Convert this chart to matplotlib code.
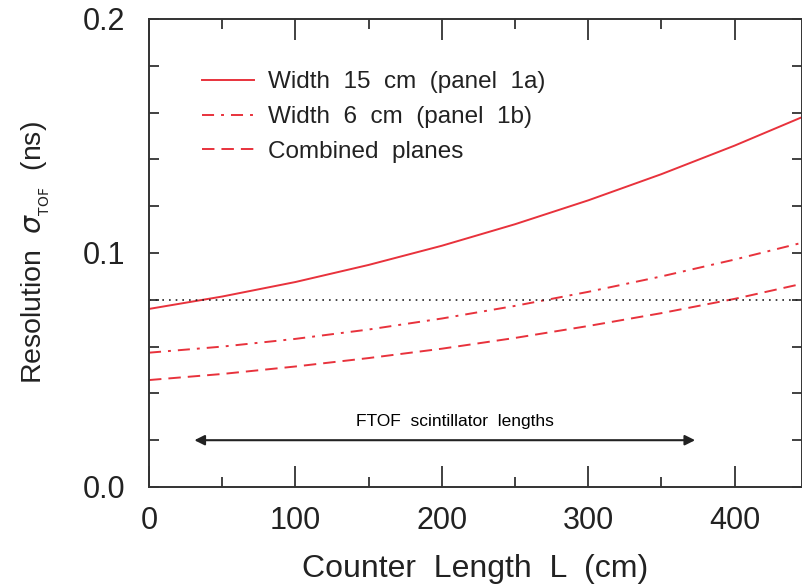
import numpy as np
import matplotlib
matplotlib.use("Agg")
import matplotlib.pyplot as plt
from matplotlib.ticker import MultipleLocator

# Data
L = [0, 50, 100, 150, 200, 250, 300, 350, 400, 450]
width15 = [0.0761, 0.0814, 0.0876, 0.0949, 0.1031, 0.1123, 0.1225, 0.1337, 0.1459, 0.1591]
width6 = [0.0574, 0.0600, 0.0633, 0.0673, 0.0720, 0.0774, 0.0834, 0.0900, 0.0972, 0.1050]
combined = [0.0457, 0.0483, 0.0515, 0.0551, 0.0591, 0.0637, 0.0688, 0.0743, 0.0804, 0.0874]
series_labels = ["Width  15  cm  (panel  1a)", "Width  6  cm  (panel  1b)", "Combined  planes"]
threshold = 0.08
arrow_range = [31, 373]
arrow_y = 0.02
arrow_text = "FTOF  scintillator  lengths"
arrow_text_x = 209

plt.rcParams['font.family'] = ['Liberation Sans', 'DejaVu Sans']
fig = plt.figure(figsize=(8.03, 5.86), dpi=100)
ax = fig.add_axes([149/803, 99/586, 653/803, 468/586])

red = '#e8323c'
lw = 1.4
ax.plot(L, width15, color=red, lw=lw, ls='-', label=series_labels[0])
ax.plot(L, width6, color=red, lw=lw, ls=(0, (6.2, 3.6, 1.5, 3.6)), label=series_labels[1])
ax.plot(L, combined, color=red, lw=lw, ls=(0, (6.4, 3.6)), label=series_labels[2])
ax.axhline(threshold, color='#222222', lw=1.2, ls=(0, (1, 3)))

ax.annotate('', xy=(arrow_range[0], arrow_y), xytext=(arrow_range[1], arrow_y),
            arrowprops=dict(arrowstyle='<|-|>', color='#222222', lw=1.5,
                            mutation_scale=15, shrinkA=0, shrinkB=0))
ax.text(arrow_text_x, arrow_y + 0.0082, arrow_text, ha='center', va='center', fontsize=12.5)

ax.set_xlim(0, 446)
ax.set_ylim(0, 0.2)
ax.xaxis.set_major_locator(MultipleLocator(100))
ax.xaxis.set_minor_locator(MultipleLocator(50))
ax.yaxis.set_minor_locator(MultipleLocator(0.02))
ax.set_yticks([0.0, 0.1, 0.2])
ax.set_yticklabels(['0.0', '0.1', '0.2'])
ax.tick_params(which='both', direction='in', top=True, right=True, labelsize=22,
               color='#333333', width=1.3, labelcolor='#222222')
ax.tick_params(which='major', axis='x', length=15, pad=14)
ax.tick_params(which='minor', axis='x', length=7.5)
ax.tick_params(which='both', axis='y', length=7.5, pad=17)
for s in ax.spines.values():
    s.set_linewidth(1.4)
    s.set_color('#333333')

ax.set_xlabel('Counter  Length  L  (cm)', fontsize=23, labelpad=13, color='#222222')
ax.set_ylabel(r'Resolution  $\sigma_{_{\rm TOF}}$  (ns)', fontsize=20.5, labelpad=22, color='#222222')

leg = ax.legend(loc='upper left', bbox_to_anchor=(0.081, 0.888), frameon=False, fontsize=17.5,
                handlelength=2.15, handletextpad=0.55, labelspacing=0.52,
                borderpad=0, borderaxespad=0)
for t in leg.get_texts():
    t.set_color('#222222')

fig.savefig('out.png', dpi=100)
